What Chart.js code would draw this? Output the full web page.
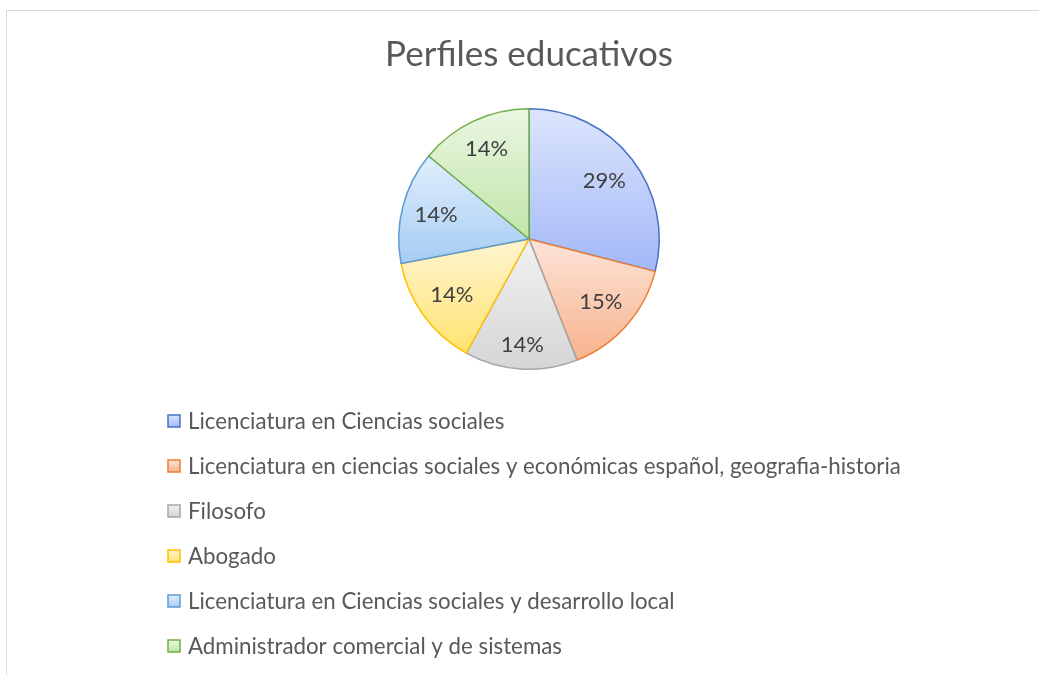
<!DOCTYPE html>
<html><head><meta charset="utf-8">
<script src="https://cdn.jsdelivr.net/npm/chart.js@4"></script>
<style>
html,body{margin:0;padding:0;background:#fff;overflow:hidden;width:1039px;height:675px}
#frame{position:absolute;left:6px;top:10px;width:1100px;height:700px;border-top:1px solid #d9d9d9;border-left:1px solid #d9d9d9}
#wrap{position:absolute;left:0;top:0;width:1039px;height:675px}
</style></head><body>
<div id="frame"></div>
<div id="wrap"><canvas id="c" width="1039" height="675"></canvas></div>
<script>
const chartTitle = 'Perfiles educativos';
const categories = [
  'Licenciatura en Ciencias sociales',
  'Licenciatura en ciencias sociales y económicas español, geografia-historia',
  'Filosofo',
  'Abogado',
  'Licenciatura en Ciencias sociales y desarrollo local',
  'Administrador comercial y de sistemas'
];
const values = [29, 15, 14, 14, 14, 14];
const borderColors = ['#4472C4', '#ED7D31', '#A5A5A5', '#FFC000', '#5B9BD5', '#70AD47'];
const fillTop = ['#dde6fd', '#fce4d8', '#f2f2f2', '#fff5d1', '#e1effc', '#ebf7e3'];
const fillBottom = ['#a2b7f7', '#f8b28c', '#d5d5d5', '#ffe36f', '#a6ccf3', '#c0e5a8'];

const FONT = 'Lato, "Open Sans", sans-serif';
const total = values.reduce((a, b) => a + b, 0);

function sliceGradient(context) {
  const chart = context.chart;
  const area = chart.chartArea;
  const i = context.dataIndex;
  if (!area || context.type !== 'data') return fillBottom[i || 0];
  let before = 0;
  for (let k = 0; k < i; k++) before += values[k];
  const a0 = -Math.PI / 2 + before / total * 2 * Math.PI;
  const a1 = a0 + values[i] / total * 2 * Math.PI;
  const cx = (area.left + area.right) / 2, cy = (area.top + area.bottom) / 2;
  const r = Math.min(area.width, area.height) / 2;
  const ys = [cy, cy + r * Math.sin(a0), cy + r * Math.sin(a1)];
  [-Math.PI / 2, Math.PI / 2, 3 * Math.PI / 2].forEach(t => { if (t >= a0 && t <= a1) ys.push(cy + r * Math.sin(t)); });
  const y0 = Math.min(...ys), y1 = Math.max(...ys);
  const g = chart.ctx.createLinearGradient(0, y0, 0, y1);
  g.addColorStop(0, fillTop[i]);
  g.addColorStop(1, fillBottom[i]);
  return g;
}

const pctLabels = {
  id: 'pctLabels',
  afterDatasetsDraw(chart) {
    const ctx = chart.ctx;
    const meta = chart.getDatasetMeta(0);
    ctx.save();
    ctx.font = '22px ' + FONT;
    ctx.fillStyle = '#404040';
    ctx.textAlign = 'center';
    ctx.textBaseline = 'middle';
    meta.data.forEach((arc, i) => {
      const p = arc.getProps(['x', 'y', 'startAngle', 'endAngle', 'outerRadius'], true);
      const mid = (p.startAngle + p.endAngle) / 2;
      const txt = Math.round(values[i] / total * 100) + '%';
      const w = ctx.measureText(txt).width, h = 24;
      const ux = Math.cos(mid), uy = Math.sin(mid);
      const d = p.outerRadius * 0.92 - (Math.abs(ux) * w / 2 + Math.abs(uy) * h / 2);
      ctx.fillText(txt, p.x + ux * d, p.y + uy * d);
    });
    ctx.restore();
  }
};

const listLegend = {
  id: 'listLegend',
  afterDraw(chart) {
    const ctx = chart.ctx;
    const top = 421, gap = 45, boxX = 168, textX = 188, box = 12;
    ctx.save();
    ctx.font = '22.3px ' + FONT;
    ctx.textBaseline = 'middle';
    ctx.textAlign = 'left';
    categories.forEach((label, i) => {
      const y = top + i * gap;
      const g = ctx.createLinearGradient(0, y - box / 2, 0, y + box / 2);
      g.addColorStop(0, fillTop[i]);
      g.addColorStop(1, fillBottom[i]);
      ctx.fillStyle = g;
      ctx.fillRect(boxX, y - box / 2, box, box);
      ctx.strokeStyle = borderColors[i];
      ctx.lineWidth = 1.5;
      ctx.strokeRect(boxX, y - box / 2, box, box);
      ctx.fillStyle = '#595959';
      ctx.fillText(label, textX, y + 1);
    });
    ctx.restore();
  }
};

new Chart(document.getElementById('c'), {
  type: 'pie',
  data: {
    labels: categories,
    datasets: [{
      data: values,
      backgroundColor: sliceGradient,
      borderColor: borderColors,
      borderWidth: 1.5
    }]
  },
  options: {
    responsive: false,
    animation: false,
    events: [],
    layout: { padding: { top: 0, bottom: 305, left: 300, right: 281 } },
    plugins: {
      legend: { display: false },
      tooltip: { enabled: false },
      title: {
        display: true,
        text: chartTitle,
        color: '#595959',
        font: { family: FONT, size: 35, weight: 'normal', lineHeight: 1.2 },
        padding: { top: 34, bottom: 32 }
      }
    }
  },
  plugins: [pctLabels, listLegend]
});
</script>
</body></html>
